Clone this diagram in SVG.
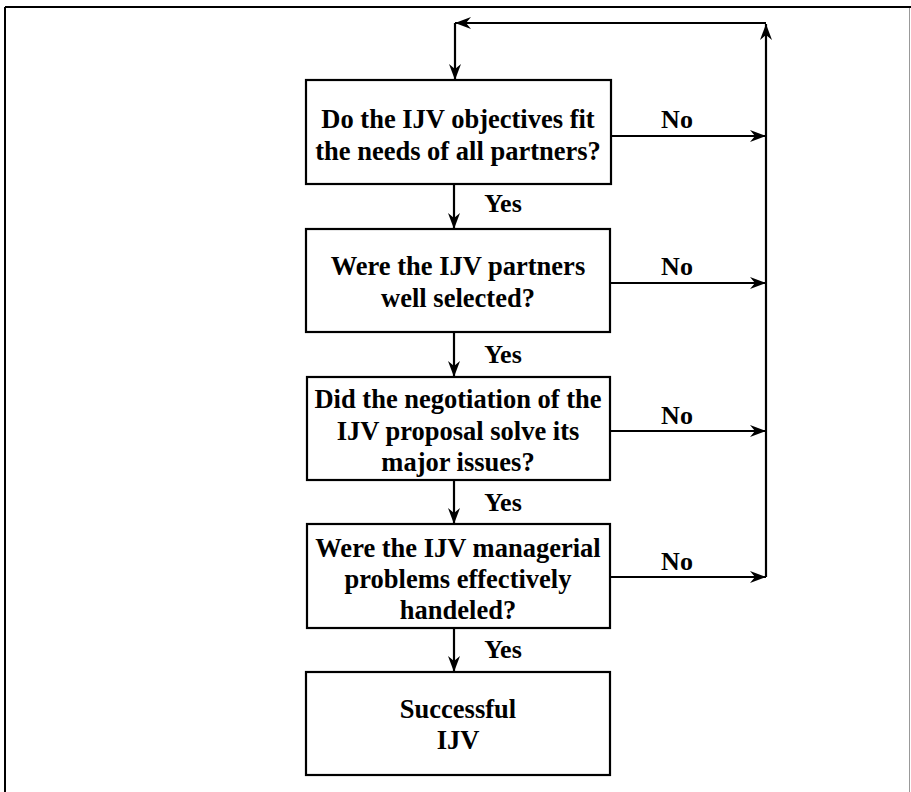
<svg xmlns="http://www.w3.org/2000/svg" width="911" height="792" viewBox="0 0 911 792">
<defs>
<marker id="ah" viewBox="0 0 16 12" refX="16" refY="6" markerWidth="16" markerHeight="12" markerUnits="userSpaceOnUse" orient="auto">
<path d="M0,0 L16,6 L0,12 L5,6 Z" fill="#000"/>
</marker>
</defs>
<style>
.box{fill:#fff;stroke:#000;stroke-width:2.2}
.t{font-family:"Liberation Serif","Times New Roman",serif;font-weight:bold;font-size:26.5px;fill:#000;text-anchor:middle}
.l{font-family:"Liberation Serif","Times New Roman",serif;font-weight:bold;font-size:26px;fill:#000;text-anchor:middle}
.c{fill:none;stroke:#000;stroke-width:2.2}
</style>
<rect width="911" height="792" fill="#fff"/>
<g id="frame">
<line x1="5" y1="7" x2="911" y2="7" stroke="#000" stroke-width="2"/>
<line x1="5" y1="7" x2="5" y2="792" stroke="#000" stroke-width="2"/>
<line x1="909.5" y1="8" x2="909.5" y2="792" stroke="#999" stroke-width="1"/>
</g>
<g id="connectors">
<path class="c" d="M766,577 V24" marker-end="url(#ah)"/>
<path class="c" d="M766,23 H455" marker-end="url(#ah)"/>
<path class="c" d="M455,23 V80" marker-end="url(#ah)"/>
<path class="c" d="M612,136 H766" marker-end="url(#ah)"/>
<path class="c" d="M610,283 H766" marker-end="url(#ah)"/>
<path class="c" d="M610,431 H766" marker-end="url(#ah)"/>
<path class="c" d="M610,577 H766" marker-end="url(#ah)"/>
<path class="c" d="M454,184 V229" marker-end="url(#ah)"/>
<path class="c" d="M454,332 V377" marker-end="url(#ah)"/>
<path class="c" d="M454,480 V524" marker-end="url(#ah)"/>
<path class="c" d="M454,628 V672" marker-end="url(#ah)"/>
<text class="l" x="677" y="128">No</text>
<text class="l" x="677" y="275">No</text>
<text class="l" x="677" y="424">No</text>
<text class="l" x="677" y="570">No</text>
<text class="l" x="503" y="212">Yes</text>
<text class="l" x="503" y="363">Yes</text>
<text class="l" x="503" y="511">Yes</text>
<text class="l" x="503" y="658">Yes</text>
</g>
<g id="n1">
<rect class="box" x="306" y="80" width="305" height="104"/>
<text class="t" x="458" y="128">Do the IJV objectives fit</text>
<text class="t" x="458" y="160">the needs of all partners?</text>
</g>
<g id="n2">
<rect class="box" x="306" y="229" width="304" height="103"/>
<text class="t" x="458" y="275">Were the IJV partners</text>
<text class="t" x="458" y="307">well selected?</text>
</g>
<g id="n3">
<rect class="box" x="307" y="377" width="303" height="103"/>
<text class="t" x="458" y="408">Did the negotiation of the</text>
<text class="t" x="458" y="440">IJV proposal solve its</text>
<text class="t" x="458" y="471">major issues?</text>
</g>
<g id="n4">
<rect class="box" x="307" y="524" width="303" height="104"/>
<text class="t" x="458" y="557">Were the IJV managerial</text>
<text class="t" x="458" y="588">problems effectively</text>
<text class="t" x="458" y="619">handeled?</text>
</g>
<g id="n5">
<rect class="box" x="306" y="672" width="304" height="103"/>
<text class="t" x="458" y="718">Successful</text>
<text class="t" x="458" y="749">IJV</text>
</g>
</svg>
